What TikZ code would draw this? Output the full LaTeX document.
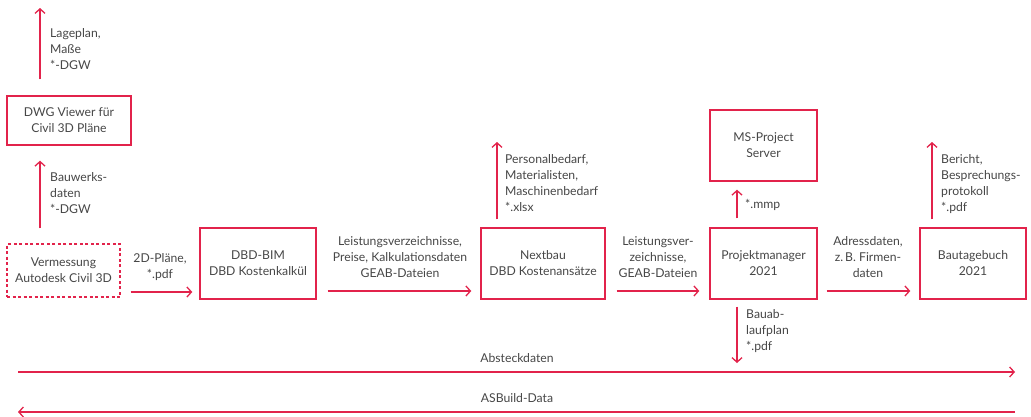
\documentclass[tikz,border=0pt]{standalone}
\usepackage{fontspec}
\setmainfont{Lato}
\usetikzlibrary{arrows.meta}
\definecolor{rot}{RGB}{226,35,75}
\definecolor{txt}{RGB}{70,70,70}
\tikzset{
  box/.style={draw=rot, line width=1.4pt, text=txt, align=center, inner sep=0pt, font=\fontsize{12.2}{16}\selectfont},
  dbox/.style={box, dash pattern=on 3pt off 2.5pt},
  arr/.style={draw=rot, line width=1.3pt, -{Straight Barb[length=4.5pt,width=10pt,line width=1.3pt]}},
  lbl/.style={text=txt, inner sep=0pt, font=\fontsize{12.2}{16}\selectfont},
  lleft/.style={lbl, align=left, anchor=north west},
  lcent/.style={lbl, align=center}
}
\begin{document}
\begin{tikzpicture}[x=1pt,y=-1pt]
\useasboundingbox (0,0) rectangle (1031,416);
% boxes
\node[box, minimum width=124pt, minimum height=49pt] (dwg) at (69,120.5) {DWG Viewer für\\Civil 3D Pläne};
\node[dbox, minimum width=113pt, minimum height=53pt] (verm) at (63.5,270.5) {Vermessung\\Autodesk Civil 3D};
\node[box, minimum width=116pt, minimum height=71pt] (dbd) at (258,263.5) {DBD-BIM\\DBD Kostenkalkül};
\node[box, minimum width=124pt, minimum height=71pt] (next) at (543,263.5) {Nextbau\\DBD Kostenansätze};
\node[box, minimum width=107pt, minimum height=71pt] (pm) at (763.5,263.5) {Projektmanager\\2021};
\node[box, minimum width=107pt, minimum height=71pt] (ms) at (763.5,145.5) {MS-Project\\Server};
\node[box, minimum width=106pt, minimum height=71pt] (btb) at (973,263.5) {Bautagebuch\\2021};
% free ends
\coordinate (dwgout) at (40,8);
\coordinate (nextout) at (497,142);
\coordinate (btbout) at (932,142);
\coordinate (pmdown) at (737,363);
\coordinate (ab1) at (18,372);
\coordinate (ab2) at (1015,372);
\coordinate (as1) at (1015,412);
\coordinate (as2) at (18,412);
% vertical arrows
\draw[arr] (dwg.north -| dwgout) ++(0,-16) -- (dwgout);
\draw[arr] (verm.north -| dwgout) ++(0,-15) -- ([yshift=-15pt]dwg.south -| dwgout);
\draw[arr] (next.north -| nextout) ++(0,-8) -- (nextout);
\draw[arr] (btb.north -| btbout) ++(0,-8) -- (btbout);
\draw[arr] ([yshift=9pt]pm.north -| pmdown) -- ([yshift=-8pt]ms.south -| pmdown);
\draw[arr] ([yshift=-7pt]pm.south -| pmdown) -- (pmdown);
% horizontal arrows
\draw[arr] ([xshift=10pt]verm.south east |- 0,292) -- ([xshift=-7pt]dbd.west |- 0,292);
\draw[arr] ([xshift=11pt]dbd.east |- 0,291) -- ([xshift=-9pt]next.west |- 0,291);
\draw[arr] ([xshift=11pt]next.east |- 0,291) -- ([xshift=-10pt]pm.west |- 0,291);
\draw[arr] ([xshift=9pt]pm.east |- 0,291) -- ([xshift=-9pt]btb.west |- 0,291);
\draw[arr] (ab1) -- (ab2);
\draw[arr] (as1) -- (as2);
% labels
\node[lleft] at (50,28) {Lageplan,\\Maße\\*-DGW};
\node[lleft] at (50,172) {Bauwerks-\\daten\\*-DGW};
\node[lcent] at (160,267) {2D-Pläne,\\*.pdf};
\node[lcent] at (400,257) {Leistungsverzeichnisse,\\Preise, Kalkulationsdaten\\GEAB-Dateien};
\node[lleft] at (505,154) {Personalbedarf,\\Materialisten,\\Maschinenbedarf\\*.xlsx};
\node[lcent] at (658,257) {Leistungsver-\\zeichnisse,\\GEAB-Dateien};
\node[lleft] at (745,199) {*.mmp};
\node[lleft] at (746,309) {Bauab-\\laufplan\\*.pdf};
\node[lcent] at (868,257) {Adressdaten,\\z.\,B. Firmen-\\daten};
\node[lleft] at (941,154) {Bericht,\\Besprechungs-\\protokoll\\*.pdf};
\node[lcent] at (517,358) {Absteckdaten};
\node[lcent] at (517,398) {ASBuild-Data};
\end{tikzpicture}
\end{document}
